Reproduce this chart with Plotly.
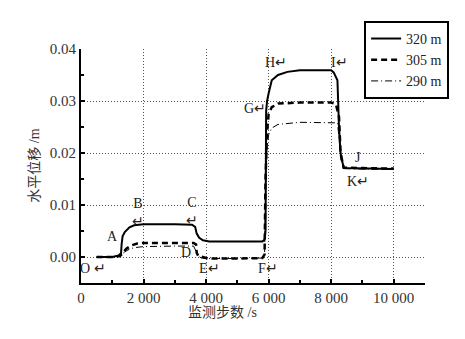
import plotly.graph_objects as go

# ---- data ----
x_320 = [500, 1000, 1200, 1280, 1300, 1330, 1400, 1550, 1700, 2000, 3000, 3550, 3650, 3700, 3780, 3900, 4100, 5000, 5800, 5870, 5900, 5920, 5950, 6000, 6100, 6300, 6600, 7000, 8000, 8080, 8200, 8250, 8300, 8400, 9000, 10000]
y_320 = [0, 0, 0.0003, 0.0007, 0.0025, 0.0040, 0.0048, 0.0057, 0.0061, 0.0063, 0.0063, 0.0062, 0.0058, 0.0045, 0.0037, 0.0032, 0.0030, 0.0030, 0.0030, 0.0033, 0.0050, 0.0280, 0.0300, 0.0315, 0.0340, 0.0350, 0.0356, 0.0359, 0.0359, 0.0355, 0.0340, 0.0250, 0.0200, 0.0171, 0.0170, 0.0169]

x_305 = [500, 1000, 1250, 1300, 1350, 1450, 1600, 1800, 2000, 3000, 3600, 3680, 3700, 3750, 3850, 4000, 4200, 5000, 5800, 5870, 5900, 5950, 6000, 6100, 6300, 7000, 8000, 8150, 8250, 8300, 8400, 9000, 10000]
y_305 = [0, 0, 0.0002, 0.0006, 0.0010, 0.0016, 0.0022, 0.0026, 0.0027, 0.0027, 0.0027, 0.0024, 0.0008, 0.0002, 0.0001, -0.0002, -0.0003, -0.0003, -0.0002, 0.0005, 0.0150, 0.0240, 0.0275, 0.0288, 0.0295, 0.0297, 0.0297, 0.0294, 0.0270, 0.0200, 0.0172, 0.0171, 0.0170]

x_290 = [500, 1000, 1250, 1300, 1400, 1550, 1700, 2000, 2500, 3000, 3600, 3700, 3750, 3850, 4000, 5000, 5800, 5870, 5900, 5950, 6000, 6100, 6300, 7000, 8000, 8200, 8250, 8300, 8400, 9000, 10000]
y_290 = [0, 0, 0.0002, 0.0005, 0.0010, 0.0015, 0.0018, 0.0020, 0.0021, 0.0021, 0.0021, 0.0010, 0.0002, -0.0002, -0.0003, -0.0003, -0.0002, 0.0004, 0.0120, 0.0210, 0.0235, 0.0248, 0.0255, 0.0259, 0.0259, 0.0258, 0.0230, 0.0190, 0.0170, 0.0169, 0.0169]

x_tickvals = [0, 2000, 4000, 6000, 8000, 10000]
x_ticktext = ["0", "2 000", "4 000", "6 000", "8 000", "10 000"]
y_tickvals = [0.00, 0.01, 0.02, 0.03, 0.04]
y_ticktext = ["0.00", "0.01", "0.02", "0.03", "0.04"]

point_labels = ["O ↵", "A", "B<br>↵", "C<br>↵", "D", "E↵", "F↵", "G↵", "H↵", "I↵", "J", "K↵"]
label_x = [380, 1000, 1830, 3540, 3365, 4120, 5970, 5560, 6250, 8280, 8846, 8850]
label_y = [-0.0022, 0.0040, 0.0085, 0.0087, 0.0008, -0.0022, -0.0022, 0.0286, 0.0374, 0.0374, 0.0192, 0.0146]

SERIF = "Liberation Serif, Times New Roman, Noto Sans CJK SC, serif"

fig = go.Figure()
fig.add_trace(go.Scatter(x=x_320, y=y_320, mode="lines", name="320 m",
                         line=dict(color="black", width=2)))
fig.add_trace(go.Scatter(x=x_305, y=y_305, mode="lines", name="305 m",
                         line=dict(color="black", width=2.5, dash="6px,4px")))
fig.add_trace(go.Scatter(x=x_290, y=y_290, mode="lines", name="290 m",
                         line=dict(color="black", width=1, dash="7px,3px,1px,3px")))

annotations = []
for t, lx, ly in zip(point_labels, label_x, label_y):
    annotations.append(dict(x=lx, y=ly, xref="x", yref="y", text=t, showarrow=False,
                            font=dict(family=SERIF, size=14, color="#222")))

annotations.append(dict(x=-0.165, y=0.5, xref="paper", yref="paper", text="水平位移 /m",
                        textangle=-90, showarrow=False,
                        font=dict(family=SERIF, size=14, color="#333")))
annotations.append(dict(x=0.41, y=-0.167, xref="paper", yref="paper", text="监测步数 /s",
                        showarrow=False, font=dict(family=SERIF, size=14, color="#333")))

fig.update_layout(
    width=457, height=331,
    margin=dict(l=73, r=40, t=41, b=56, autoexpand=False),
    paper_bgcolor="white", plot_bgcolor="white",
    font=dict(family=SERIF, size=14, color="#222"),
    showlegend=True,
    legend=dict(x=0.823, y=1.12, xanchor="left", yanchor="top",
                bgcolor="white", bordercolor="black", borderwidth=2,
                font=dict(family=SERIF, size=14, color="#222"),
                itemwidth=30, tracegroupgap=0),
    annotations=annotations,
)
fig.update_xaxes(range=[0, 11000], tickmode="array", tickvals=x_tickvals, ticktext=x_ticktext,
                 showline=True, linecolor="black", linewidth=2, ticks="inside", ticklen=4,
                 tickwidth=2, tickcolor="black", showgrid=True, gridcolor="#555",
                 griddash="1px,2px", gridwidth=1, zeroline=False,
                 tickfont=dict(family=SERIF, size=15, color="#333"),
                 minor=dict(tickmode="array", tickvals=[1000, 3000, 5000, 7000, 9000, 11000],
                            ticks="inside", ticklen=3, tickwidth=2, tickcolor="black", showgrid=False))
fig.update_yaxes(range=[-0.005, 0.04], tickmode="array", tickvals=y_tickvals, ticktext=y_ticktext,
                 showline=True, linecolor="black", linewidth=2, ticks="inside", ticklen=4,
                 tickwidth=2, tickcolor="black", showgrid=True, gridcolor="#555",
                 griddash="1px,2px", gridwidth=1, zeroline=False,
                 tickfont=dict(family=SERIF, size=15, color="#333"),
                 minor=dict(tickmode="array", tickvals=[0.005, 0.015, 0.025, 0.035],
                            ticks="inside", ticklen=3, tickwidth=2, tickcolor="black", showgrid=False))

fig.write_html("out.html")
